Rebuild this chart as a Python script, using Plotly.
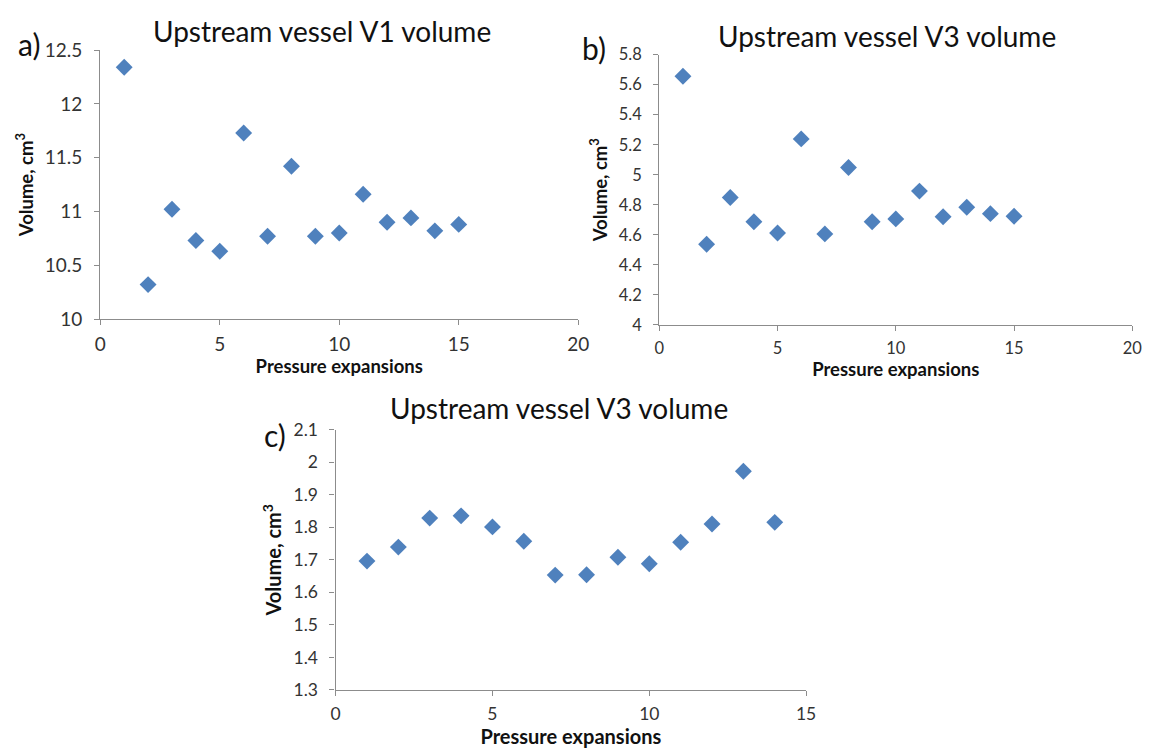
import plotly.graph_objects as go

expansions_a = list(range(1, 16))
volume_a = [12.34, 10.32, 11.02, 10.73, 10.63, 11.73, 10.77, 11.42, 10.77, 10.80, 11.16, 10.90, 10.94, 10.82, 10.88]

expansions_b = list(range(1, 16))
volume_b = [5.656, 4.537, 4.848, 4.687, 4.612, 5.239, 4.606, 5.048, 4.687, 4.706, 4.891, 4.720, 4.784, 4.741, 4.724]

expansions_c = list(range(1, 15))
volume_c = [1.696, 1.739, 1.828, 1.835, 1.801, 1.757, 1.653, 1.654, 1.708, 1.688, 1.754, 1.810, 1.972, 1.815]

titles = ["Upstream vessel V1 volume", "Upstream vessel V3 volume", "Upstream vessel V3 volume"]
panel_labels = ["a)", "b)", "c)"]
x_title = "Pressure expansions"
y_title = "Volume, cm<sup>3</sup>"

W, H = 1163, 755
FONT = "Lato"
MARKER_COLOR = "#4F81BD"
AXIS_COLOR = "#8C8C8C"
TICK_COLOR = "#333333"

def px_x(p):
    return p / W

def px_y(p):
    return 1 - p / H

fig = go.Figure()

panels = [
    dict(x=expansions_a, y=volume_a, xd=(95.7, 580.7), yd=(39.3, 316.7), xr=[0, 20], yr=[10, 12.5],
         dy=0.5, dx=5, tf=19, af=18.5, xstand=0),
    dict(x=expansions_b, y=volume_b, xd=(663, 1143), yd=(44, 322.7), xr=[0, 20], yr=[4, 5.8],
         dy=0.2, dx=5, tf=16.5, af=18.5, xstand=0),
    dict(x=expansions_c, y=volume_c, xd=(334.5, 812), yd=(430.7, 699.3), xr=[0, 15], yr=[1.3, 2.1],
         dy=0.1, dx=5, tf=17.5, af=20, xstand=1),
]

layout = {}
for i, p in enumerate(panels):
    n = "" if i == 0 else str(i + 1)
    fig.add_trace(go.Scatter(
        x=p["x"], y=p["y"], mode="markers",
        marker=dict(symbol="diamond", size=13, color=MARKER_COLOR, line=dict(width=0)),
        xaxis="x" + n, yaxis="y" + n, showlegend=False,
    ))
    common = dict(showgrid=False, zeroline=False, showline=True, linecolor=AXIS_COLOR, linewidth=1.3,
                  ticks="outside", ticklen=5, tickcolor=AXIS_COLOR, tickwidth=1.3,
                  tickfont=dict(family=FONT, size=p["tf"], color=TICK_COLOR))
    layout["xaxis" + n] = dict(common, domain=[px_x(p["xd"][0]), px_x(p["xd"][1])], range=p["xr"],
                               dtick=p["dx"], tick0=0, anchor="y" + n, ticklabelstandoff=3,
                               title=dict(text=x_title, font=dict(family=FONT, size=p["af"], color="#111111", weight="bold"), standoff=p["xstand"]))
    layout["yaxis" + n] = dict(common, domain=[px_y(p["yd"][1]), px_y(p["yd"][0])], range=p["yr"],
                               dtick=p["dy"], tick0=p["yr"][0], anchor="x" + n, ticklabelstandoff=8,
                               title=dict(text=y_title, font=dict(family=FONT, size=p["af"], color="#111111", weight="bold"), standoff=6))

fig.update_layout(**layout)

title_pos = [(321, 20), (894, 25), (561, 408)]
label_pos = [(23, 33), (597, 37), (273, 436)]
annotations = []
for t, (tx, ty) in zip(titles, title_pos):
    annotations.append(dict(text=t, x=px_x(tx), y=px_y(ty), xref="paper", yref="paper", showarrow=False,
                            xanchor="center", yanchor="middle", font=dict(family=FONT, size=28, color="#111111")))
for t, (tx, ty) in zip(panel_labels, label_pos):
    annotations.append(dict(text=t, x=px_x(tx), y=px_y(ty), xref="paper", yref="paper", showarrow=False,
                            xanchor="center", yanchor="middle", font=dict(family=FONT, size=30, color="#111111")))

fig.update_layout(
    width=W, height=H, margin=dict(l=0, r=0, t=0, b=0),
    paper_bgcolor="white", plot_bgcolor="white",
    annotations=annotations,
)

fig.write_html("out.html")
